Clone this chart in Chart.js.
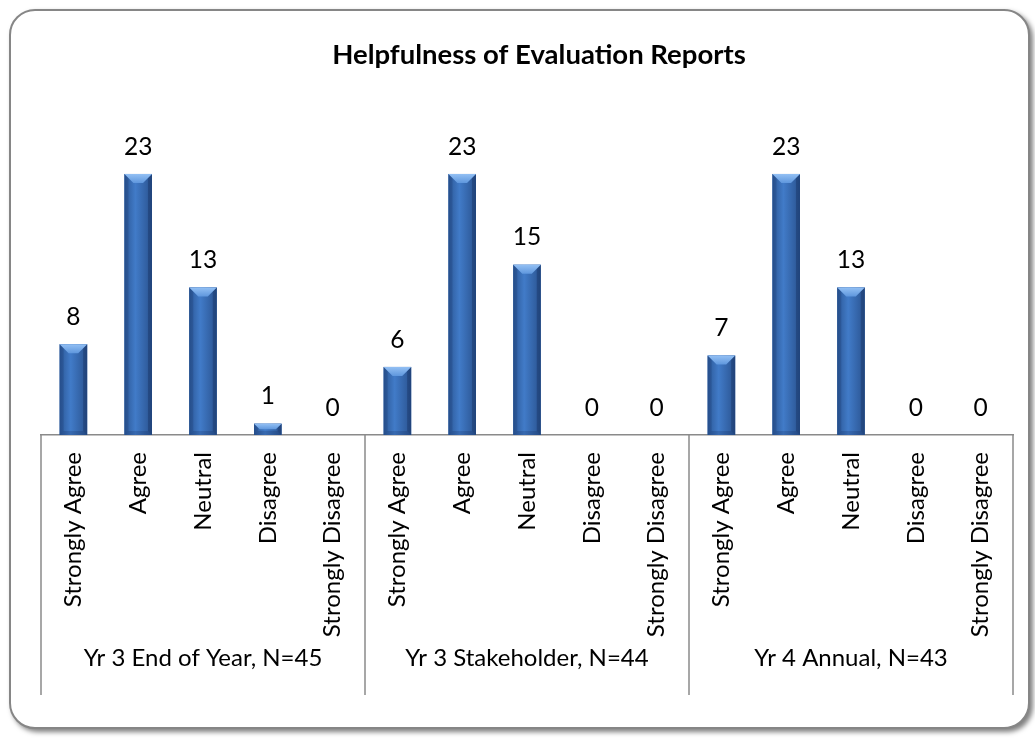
<!DOCTYPE html>
<html>
<head>
<meta charset="utf-8">
<title>Helpfulness of Evaluation Reports</title>
<script src="https://cdn.jsdelivr.net/npm/chart.js@4.4.1/dist/chart.umd.min.js"></script>
<style>
  html, body { margin: 0; padding: 0; background: #fff; }
  body { width: 1035px; height: 738px; position: relative; overflow: hidden; }
  .frame {
    position: absolute; left: 9px; top: 9px; width: 1021px; height: 720px;
    box-sizing: border-box; border: 2px solid #868686; border-radius: 26px;
    box-shadow: 3px 3px 5px rgba(0, 0, 0, 0.5); background: #fff;
  }
  .chart-wrap { position: absolute; left: 0; top: 0; width: 1035px; height: 738px; }
</style>
</head>
<body>
<div class="frame"></div>
<div class="chart-wrap"><canvas id="helpfulness_chart"></canvas></div>
<script>
'use strict';

// Data
// --------------------------------------------------------------------
const responseLabels = ['Strongly Agree', 'Agree', 'Neutral', 'Disagree', 'Strongly Disagree'];
const reportGroups = ['Yr 3 End of Year, N=45', 'Yr 3 Stakeholder, N=44', 'Yr 4 Annual, N=43'];
const yr3EndOfYear = [8, 23, 13, 1, 0];
const yr3Stakeholder = [6, 23, 15, 0, 0];
const yr4Annual = [7, 23, 13, 0, 0];
const chartTitle = 'Helpfulness of Evaluation Reports';

(function () {
  // Color Variables
  const barColor = '#3a72bf',
    barEdgeColor = '#2c5897',
    barMidColor = '#417bc8',
    bevelLightColor = '#93c0f4',
    bevelColor = '#5f97dd',
    axisColor = '#8a8a8a',
    textColor = '#000000';

  const fontFamily = 'Lato, "Open Sans", sans-serif';

  const allLabels = [];
  reportGroups.forEach(function () {
    responseLabels.forEach(function (l) {
      allLabels.push(l);
    });
  });
  const allValues = yr3EndOfYear.concat(yr3Stakeholder, yr4Annual);

  // Bevelled bars, value labels, group boxes, title
  // --------------------------------------------------------------------
  function drawBevelBar(ctx, bar) {
    const left = bar.x - bar.width / 2,
      right = bar.x + bar.width / 2;
    const top = Math.min(bar.y, bar.base),
      bottom = Math.max(bar.y, bar.base);
    const h = bottom - top;
    if (h < 0.5) return;
    const b = Math.min(9, h / 2, bar.width / 2);

    const body = ctx.createLinearGradient(left, 0, right, 0);
    body.addColorStop(0, barEdgeColor);
    body.addColorStop(0.4, barMidColor);
    body.addColorStop(1, '#2a5390');
    ctx.fillStyle = body;
    ctx.fillRect(left, top, bar.width, h);

    // side and bottom bevels
    ctx.fillStyle = 'rgba(15, 40, 90, 0.2)';
    ctx.beginPath();
    ctx.moveTo(left, top);
    ctx.lineTo(left + 4, top + 4);
    ctx.lineTo(left + 4, bottom - 4);
    ctx.lineTo(left, bottom);
    ctx.closePath();
    ctx.fill();
    ctx.fillStyle = 'rgba(10, 30, 70, 0.28)';
    ctx.beginPath();
    ctx.moveTo(right, top);
    ctx.lineTo(right - 4, top + 4);
    ctx.lineTo(right - 4, bottom - 4);
    ctx.lineTo(right, bottom);
    ctx.closePath();
    ctx.fill();
    ctx.fillStyle = 'rgba(10, 30, 70, 0.18)';
    ctx.beginPath();
    ctx.moveTo(left, bottom);
    ctx.lineTo(left + 4, bottom - 4);
    ctx.lineTo(right - 4, bottom - 4);
    ctx.lineTo(right, bottom);
    ctx.closePath();
    ctx.fill();

    // top bevel
    const tg = ctx.createLinearGradient(0, top, 0, top + b);
    tg.addColorStop(0, bevelLightColor);
    tg.addColorStop(1, bevelColor);
    ctx.fillStyle = tg;
    ctx.beginPath();
    ctx.moveTo(left, top);
    ctx.lineTo(right, top);
    ctx.lineTo(right - b, top + b);
    ctx.lineTo(left + b, top + b);
    ctx.closePath();
    ctx.fill();
  }

  const decorations = {
    id: 'decorations',
    afterDatasetsDraw: function (chart) {
      const ctx = chart.ctx;
      const meta = chart.getDatasetMeta(0);
      ctx.save();
      meta.data.forEach(function (bar) {
        drawBevelBar(ctx, bar);
      });
      ctx.fillStyle = textColor;
      ctx.font = '24.5px ' + fontFamily;
      ctx.textAlign = 'center';
      ctx.textBaseline = 'bottom';
      meta.data.forEach(function (bar, i) {
        ctx.fillText(String(allValues[i]), bar.x, bar.y - 15);
      });
      ctx.restore();
    },
    afterDraw: function (chart) {
      const ctx = chart.ctx;
      const x = chart.scales.x;
      const area = chart.chartArea;
      const boxBottom = x.bottom;
      const per = responseLabels.length;
      ctx.save();
      ctx.strokeStyle = axisColor;
      ctx.lineWidth = 1.5;
      const edges = [area.left];
      for (let g = 1; g < reportGroups.length; g++) {
        edges.push((x.getPixelForValue(g * per - 1) + x.getPixelForValue(g * per)) / 2);
      }
      edges.push(area.right);
      edges.forEach(function (ex) {
        ctx.beginPath();
        ctx.moveTo(ex, area.bottom);
        ctx.lineTo(ex, boxBottom);
        ctx.stroke();
      });
      ctx.fillStyle = textColor;
      ctx.font = '24px ' + fontFamily;
      ctx.textAlign = 'center';
      ctx.textBaseline = 'middle';
      reportGroups.forEach(function (name, g) {
        ctx.fillText(name, (edges[g] + edges[g + 1]) / 2, boxBottom - 37);
      });
      ctx.font = 'bold 27.5px ' + fontFamily;
      ctx.fillText(chartTitle, 539, 55);
      ctx.restore();
    }
  };

  // Bar Chart
  // --------------------------------------------------------------------
  const helpfulness_chart = document.getElementById('helpfulness_chart');
  if (helpfulness_chart) {
    new Chart(helpfulness_chart, {
      type: 'bar',
      data: {
        labels: allLabels,
        datasets: [
          {
            data: allValues,
            backgroundColor: barColor,
            borderColor: 'transparent',
            barPercentage: 0.425,
            categoryPercentage: 1
          }
        ]
      },
      options: {
        responsive: true,
        maintainAspectRatio: false,
        animation: false,
        layout: {
          padding: { left: 41, right: 22, top: 94.5, bottom: 43 }
        },
        plugins: {
          legend: { display: false },
          tooltip: { enabled: false },
          title: { display: false }
        },
        scales: {
          x: {
            grid: { display: false, drawTicks: false },
            border: { display: true, color: axisColor, width: 1.5 },
            ticks: {
              autoSkip: false,
              minRotation: 90,
              maxRotation: 90,
              padding: 17,
              color: textColor,
              font: { family: fontFamily, size: 24 }
            },
            afterFit: function (scale) {
              scale.height = 260;
            }
          },
          y: {
            display: false,
            min: 0,
            max: 30
          }
        }
      },
      plugins: [decorations]
    });
  }
})();
</script>
</body>
</html>
